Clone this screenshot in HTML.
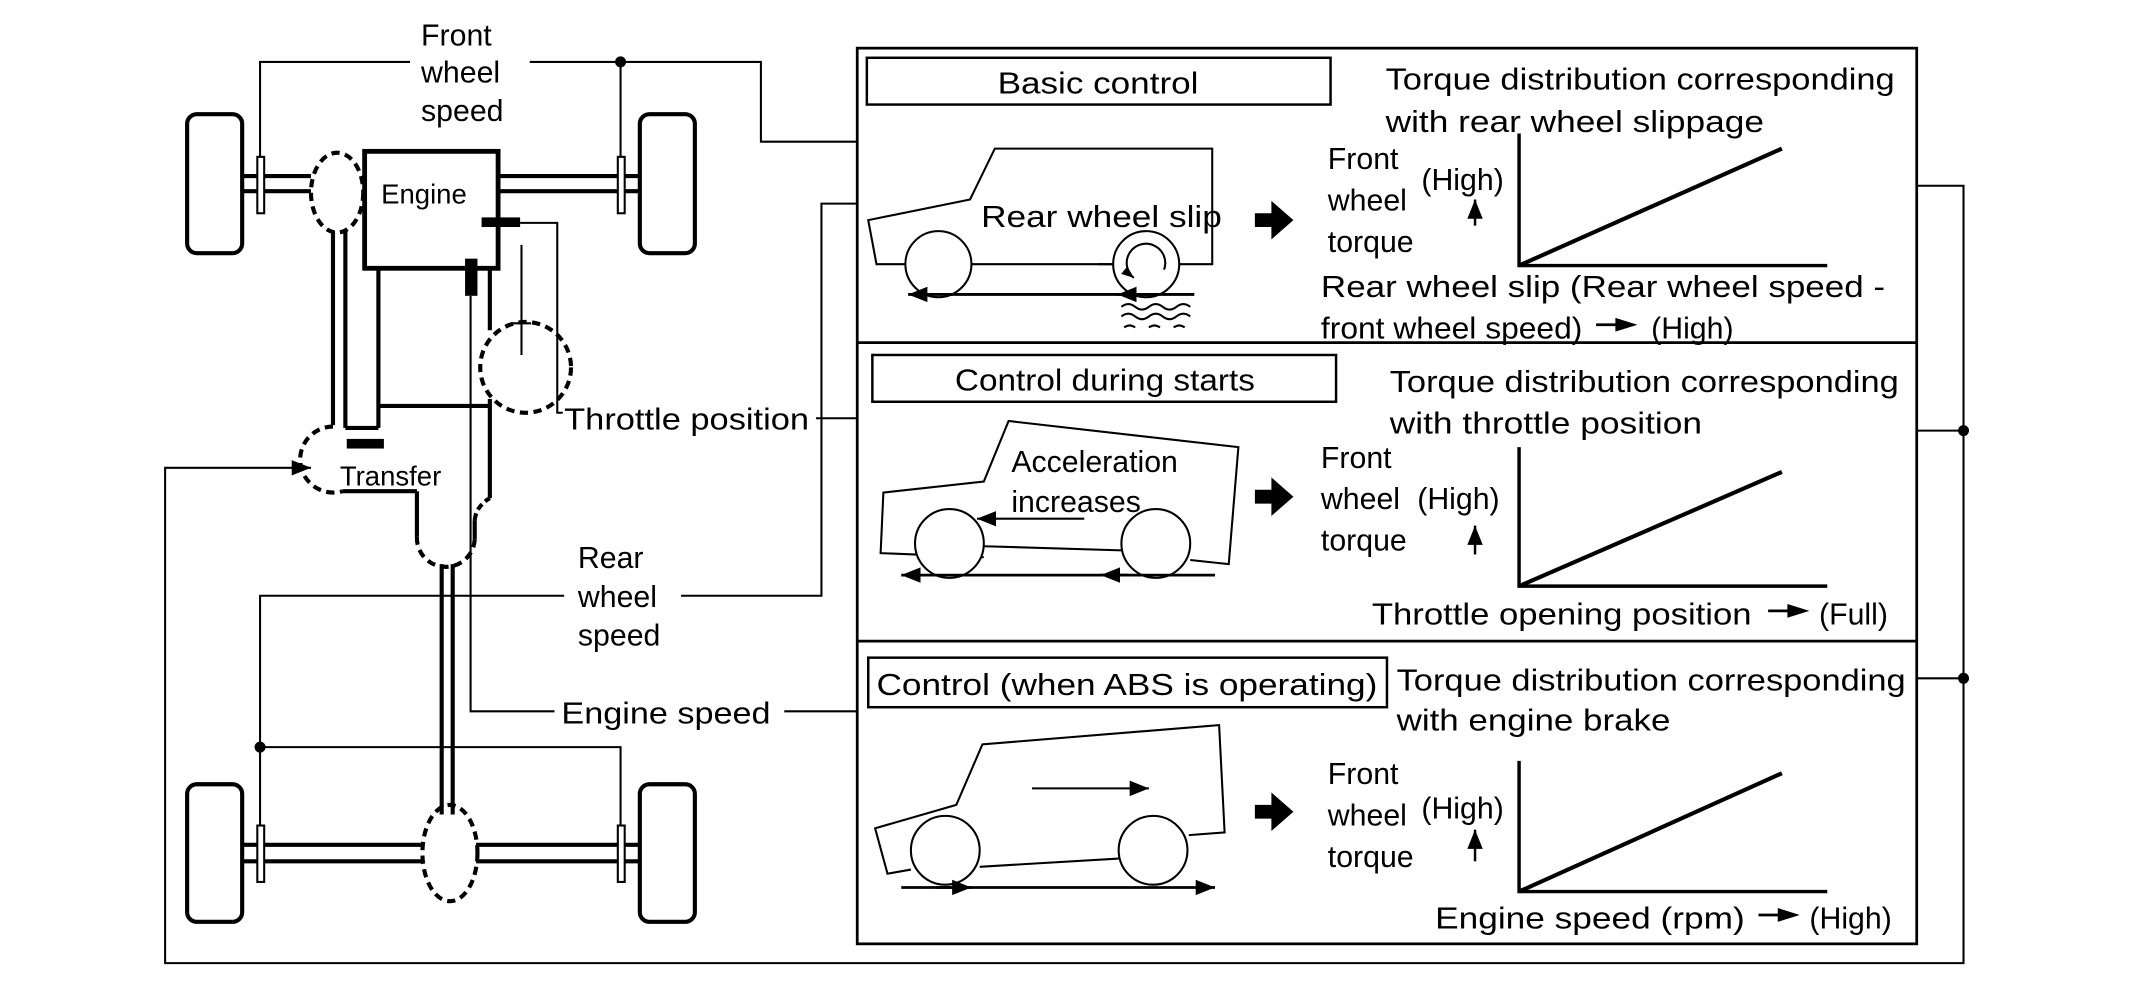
<!DOCTYPE html>
<html><head><meta charset="utf-8"><style>
html,body{margin:0;padding:0;background:#fff;}
svg{display:block;}
text{font-family:"Liberation Sans",sans-serif;fill:#000;}
</style></head><body>
<svg width="2130" height="981" viewBox="0 0 1548 713" preserveAspectRatio="none" xmlns="http://www.w3.org/2000/svg">
<defs>
<marker id="ah" viewBox="0 0 10 10" refX="10" refY="5" markerWidth="9" markerHeight="9" orient="auto" markerUnits="userSpaceOnUse"><path d="M0,1 L10,5 L0,9 z" fill="#000"/></marker>
<marker id="ahb" viewBox="0 0 10 10" refX="10" refY="5" markerWidth="14" markerHeight="14" orient="auto" markerUnits="userSpaceOnUse"><path d="M0,1 L10,5 L0,9 z" fill="#000"/></marker>
</defs>
<g fill="none" stroke="#000">
<rect x="136" y="83" width="40" height="101" rx="7" stroke-width="3"/>
<rect x="465" y="83" width="40" height="101" rx="7" stroke-width="3"/>
<rect x="136" y="570" width="40" height="100" rx="7" stroke-width="3"/>
<rect x="465" y="570" width="40" height="100" rx="7" stroke-width="3"/>
<g stroke-width="3">
<line x1="176" y1="128" x2="226" y2="128"/><line x1="176" y1="139" x2="226" y2="139"/>
<line x1="362" y1="128" x2="465" y2="128"/><line x1="362" y1="139" x2="465" y2="139"/>
<line x1="176" y1="614" x2="308" y2="614"/><line x1="176" y1="626" x2="308" y2="626"/>
<line x1="346" y1="614" x2="465" y2="614"/><line x1="346" y1="626" x2="465" y2="626"/>
</g>
<g stroke-width="1.5" fill="#fff">
<rect x="187" y="114" width="5" height="41"/><rect x="449" y="114" width="5" height="41"/>
<rect x="187" y="600" width="5" height="41"/><rect x="449" y="600" width="5" height="41"/>
</g>
<ellipse cx="245" cy="140" rx="19" ry="29" stroke-width="3" stroke-dasharray="6,4"/>
<rect x="265" y="110" width="97" height="85" stroke-width="3.5"/>
<g stroke-width="3">
<line x1="242" y1="168" x2="242" y2="309"/>
<line x1="251" y1="168" x2="251" y2="311"/>
<line x1="251" y1="311" x2="275" y2="311"/>
<line x1="275" y1="195" x2="275" y2="311"/>
<line x1="275" y1="295" x2="356" y2="295"/>
<line x1="356" y1="195" x2="356" y2="240"/>
<line x1="356" y1="290" x2="356" y2="362"/>
<line x1="249" y1="357" x2="303" y2="357"/>
<line x1="303" y1="357" x2="303" y2="390"/>
<line x1="345" y1="378" x2="345" y2="392"/>
<line x1="321" y1="410" x2="321" y2="592"/>
<line x1="329" y1="410" x2="329" y2="592"/>
</g>
<path d="M242,310 A24,24 0 1,0 249,357" stroke-width="3" stroke-dasharray="6,4"/>
<path d="M303,390 A20,20 0 0,0 345,392" stroke-width="3" stroke-dasharray="6,4"/>
<path d="M345,378 Q346,368 356,362" stroke-width="3" stroke-dasharray="5,3"/>
<ellipse cx="327" cy="620" rx="20" ry="35" stroke-width="3" stroke-dasharray="6,4"/>
<circle cx="382" cy="267" r="33" stroke-width="3" stroke-dasharray="6,4"/>
<line x1="379" y1="178" x2="379" y2="258" stroke-width="1.5"/>
<line x1="372" y1="235" x2="386" y2="235" stroke-width="1.5"/>
<rect x="350" y="158" width="28" height="7" fill="#000" stroke="none"/>
<rect x="338" y="188" width="9" height="27" fill="#000" stroke="none"/>
<rect x="252" y="319" width="27" height="7" fill="#000" stroke="none"/>
<g stroke-width="1.5">
<polyline points="378,162 405,162 405,300 409,300"/>
<polyline points="342,215 342,517 403,517"/>
<line x1="570" y1="517" x2="623" y2="517"/>
<line x1="593" y1="304" x2="623" y2="304"/>
<polyline points="189,114 189,45 298,45"/>
<polyline points="385,45 553,45 553,103 623,103"/>
<line x1="451" y1="45" x2="451" y2="114"/>
<polyline points="189,600 189,433 410,433"/>
<polyline points="495,433 597,433 597,148 623,148"/>
<polyline points="189,543 451,543 451,600"/>
<polyline points="1393,135 1427,135 1427,700 120,700 120,340 226,340" marker-end="url(#ahb)"/>
<line x1="1393" y1="313" x2="1427" y2="313"/>
<line x1="1393" y1="493" x2="1427" y2="493"/>
</g>
</g>
<g fill="#000">
<circle cx="451" cy="45" r="4"/><circle cx="189" cy="543" r="4"/>
<circle cx="1427" cy="313" r="4"/><circle cx="1427" cy="493" r="4"/>
</g>
<g font-size="22">
<text x="306" y="33">Front</text>
<text x="306" y="60">wheel</text>
<text x="306" y="88">speed</text>
<text x="277" y="148" font-size="20">Engine</text>
<text x="247" y="353" font-size="20">Transfer</text>
<text x="410" y="312" textLength="178" lengthAdjust="spacingAndGlyphs">Throttle position</text>
<text x="420" y="413">Rear</text>
<text x="420" y="441">wheel</text>
<text x="420" y="469">speed</text>
<text x="408" y="526" textLength="152" lengthAdjust="spacingAndGlyphs">Engine speed</text>
</g>
<g fill="none" stroke="#000">
<rect x="623" y="35" width="770" height="651" stroke-width="2"/>
<line x1="623" y1="249" x2="1393" y2="249" stroke-width="2"/>
<line x1="623" y1="466" x2="1393" y2="466" stroke-width="2"/>
<rect x="630" y="42" width="337" height="34" stroke-width="1.8"/>
<rect x="634" y="258" width="337" height="34" stroke-width="1.8"/>
<rect x="631" y="478" width="377" height="36" stroke-width="1.8"/>
<g stroke-width="1.5">
<polyline points="798,192 881,192 881,108 723,108 705,145 631,160 637,192 658,192"/>
<line x1="706" y1="192" x2="809" y2="192"/>
<circle cx="682" cy="192" r="24" fill="#fff"/>
<circle cx="833" cy="192" r="24" fill="#fff"/>
<path d="M846,196 A14,14 0 1,0 824,202" marker-end="url(#ah)"/>
<line x1="868" y1="214" x2="660" y2="214" marker-end="url(#ahb)" stroke-width="2"/>
<line x1="840" y1="214" x2="812" y2="214" marker-end="url(#ahb)" stroke-width="2"/>
<path d="M815,223 q5,-4 10,0 q5,4 10,0 q5,-4 10,0 q5,4 10,0 q5,-4 10,0"/>
<path d="M815,230 q5,-4 10,0 q5,4 10,0 q5,-4 10,0 q5,4 10,0 q5,-4 10,0"/>
<path d="M817,238 q4,-3 8,0 M835,238 q4,-3 8,0 M853,238 q4,-3 8,0"/>
</g>
<g stroke-width="1.5">
<polyline points="715,405 640,402 642,358 715,350 733,306 900,325 893,410 865,407"/>
<line x1="715" y1="397" x2="815" y2="400"/>
<circle cx="690" cy="395" r="25" fill="#fff"/>
<circle cx="840" cy="395" r="25" fill="#fff"/>
<line x1="788" y1="377" x2="710" y2="377" marker-end="url(#ahb)"/>
<line x1="883" y1="418" x2="655" y2="418" marker-end="url(#ahb)" stroke-width="2"/>
<line x1="820" y1="418" x2="800" y2="418" marker-end="url(#ahb)" stroke-width="2"/>
</g>
<g stroke-width="1.5">
<polyline points="662,632 645,635 636,602 695,585 714,541 886,527 890,605 864,607"/>
<line x1="712" y1="630" x2="813" y2="624"/>
<circle cx="687" cy="618" r="25" fill="#fff"/>
<circle cx="838" cy="618" r="25" fill="#fff"/>
<line x1="750" y1="573" x2="835" y2="573" marker-end="url(#ahb)"/>
<line x1="655" y1="645" x2="883" y2="645" marker-end="url(#ahb)" stroke-width="2"/>
<line x1="680" y1="645" x2="706" y2="645" marker-end="url(#ahb)" stroke-width="2"/>
</g>
<g stroke-width="3">
<polyline points="1104,97 1104,193 1328,193" stroke-width="2.5"/>
<line x1="1104" y1="193" x2="1295" y2="108"/>
<polyline points="1104,325 1104,426 1328,426" stroke-width="2.5"/>
<line x1="1104" y1="426" x2="1295" y2="343"/>
<polyline points="1104,553 1104,648 1328,648" stroke-width="2.5"/>
<line x1="1104" y1="648" x2="1295" y2="562"/>
</g>
<g stroke-width="1.8">
<line x1="1072" y1="164" x2="1072" y2="145" marker-end="url(#ahb)"/>
<line x1="1072" y1="403" x2="1072" y2="382" marker-end="url(#ahb)"/>
<line x1="1072" y1="626" x2="1072" y2="603" marker-end="url(#ahb)"/>
</g>
</g>
<g fill="#000">
<path d="M912,155 h12 v-9 l16,14 l-16,14 v-9 h-12z"/>
<path d="M912,356 h12 v-9 l16,14 l-16,14 v-9 h-12z"/>
<path d="M912,585 h12 v-9 l16,14 l-16,14 v-9 h-12z"/>
<path d="M1160,235 h14 v-4 l16,5 l-16,5 v-4 h-14z"/>
<path d="M1285,443 h14 v-4 l16,5 l-16,5 v-4 h-14z"/>
<path d="M1278,664 h14 v-4 l16,5 l-16,5 v-4 h-14z"/>
</g>
<g font-size="22">
<text x="798" y="68" text-anchor="middle" textLength="146" lengthAdjust="spacingAndGlyphs">Basic control</text>
<text x="803" y="284" text-anchor="middle" textLength="218" lengthAdjust="spacingAndGlyphs">Control during starts</text>
<text x="637" y="505" textLength="364" lengthAdjust="spacingAndGlyphs">Control (when ABS is operating)</text>
<text x="1007" y="65" textLength="370" lengthAdjust="spacingAndGlyphs">Torque distribution corresponding</text>
<text x="1007" y="96" textLength="275" lengthAdjust="spacingAndGlyphs">with rear wheel slippage</text>
<text x="1010" y="285" textLength="370" lengthAdjust="spacingAndGlyphs">Torque distribution corresponding</text>
<text x="1010" y="315" textLength="227" lengthAdjust="spacingAndGlyphs">with throttle position</text>
<text x="1015" y="502" textLength="370" lengthAdjust="spacingAndGlyphs">Torque distribution corresponding</text>
<text x="1015" y="531" textLength="199" lengthAdjust="spacingAndGlyphs">with engine brake</text>
<text x="713" y="165" textLength="175" lengthAdjust="spacingAndGlyphs">Rear wheel slip</text>
<text x="735" y="343">Acceleration</text>
<text x="735" y="372">increases</text>
<text x="965" y="123">Front</text><text x="965" y="153">wheel</text><text x="965" y="183">torque</text>
<text x="1033" y="138">(High)</text>
<text x="960" y="340">Front</text><text x="960" y="370">wheel</text><text x="960" y="400">torque</text>
<text x="1030" y="370">(High)</text>
<text x="965" y="570">Front</text><text x="965" y="600">wheel</text><text x="965" y="630">torque</text>
<text x="1033" y="595">(High)</text>
<text x="960" y="216" textLength="410" lengthAdjust="spacingAndGlyphs">Rear wheel slip (Rear wheel speed -</text>
<text x="960" y="246" textLength="190" lengthAdjust="spacingAndGlyphs">front wheel speed)</text>
<text x="1200" y="246">(High)</text>
<text x="997" y="454" textLength="276" lengthAdjust="spacingAndGlyphs">Throttle opening position</text>
<text x="1322" y="454">(Full)</text>
<text x="1043" y="675" textLength="225" lengthAdjust="spacingAndGlyphs">Engine speed (rpm)</text>
<text x="1315" y="675">(High)</text>
</g>
</svg>
</body></html>
